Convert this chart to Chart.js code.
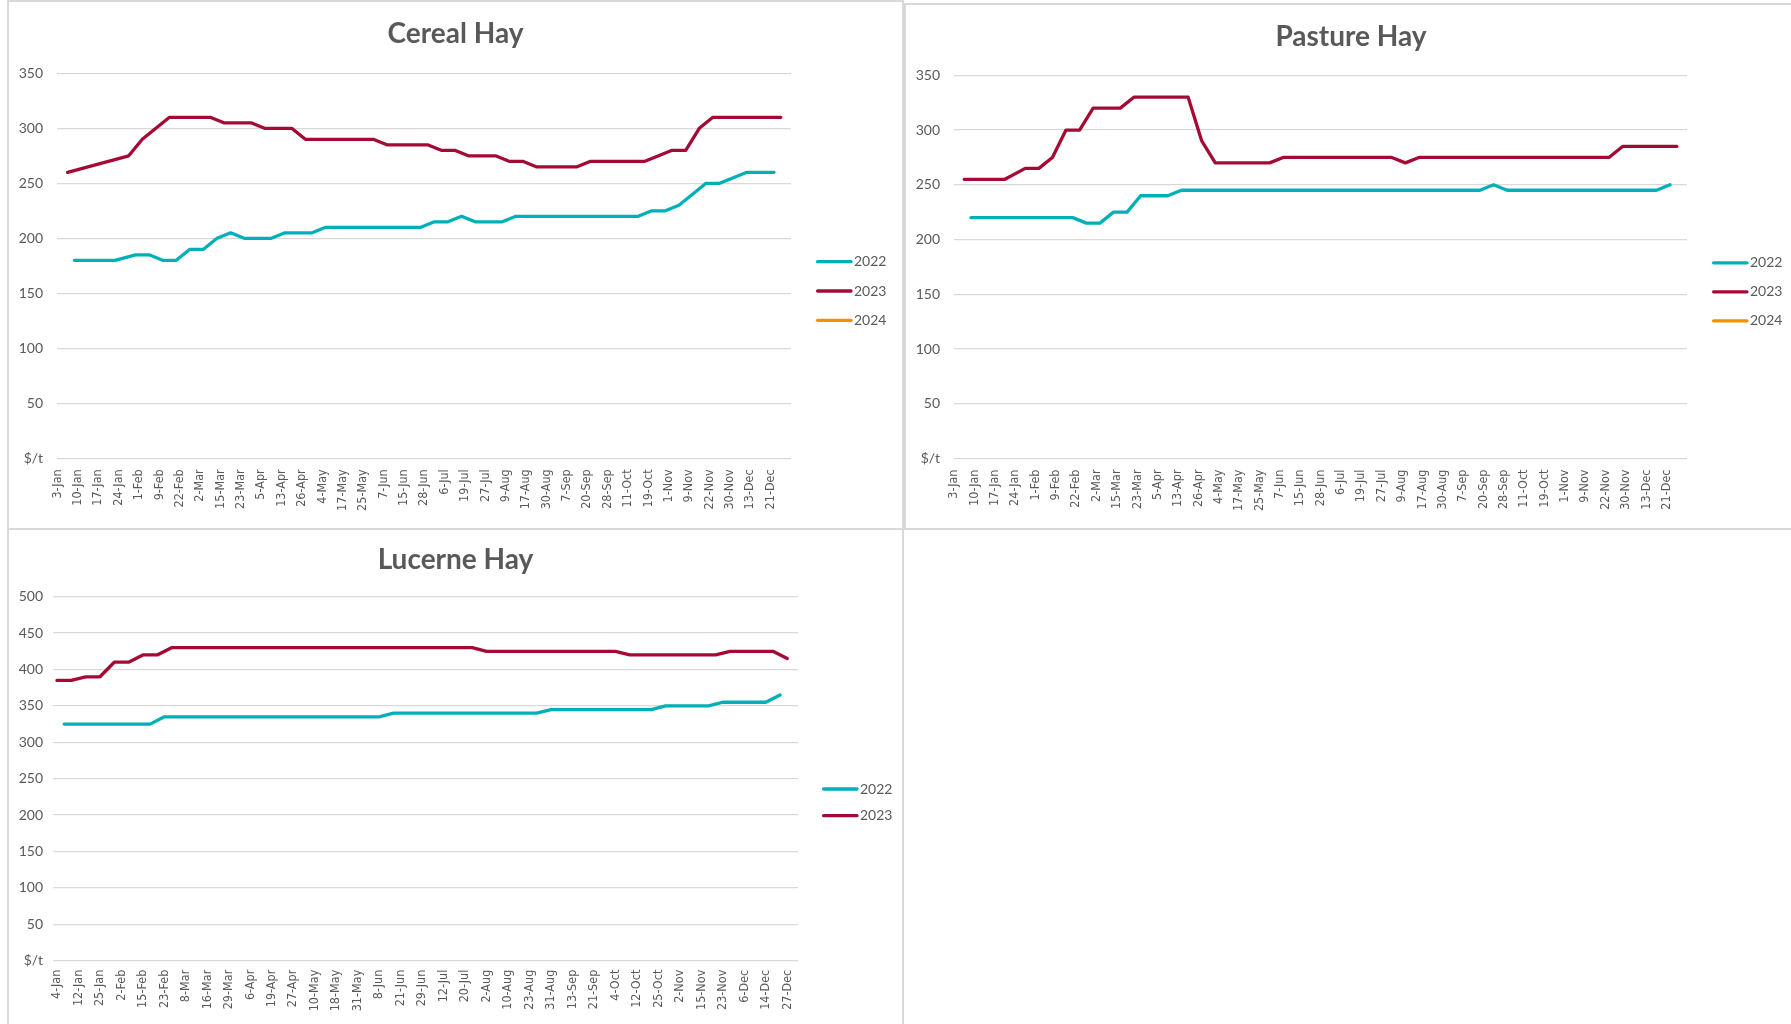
<!DOCTYPE html>
<html>
<head>
<meta charset="utf-8">
<script src="https://cdn.jsdelivr.net/npm/chart.js@4.4.1/dist/chart.umd.min.js"></script>
<style>
  html, body { margin: 0; padding: 0; background: #fff; overflow: hidden; }
  body { width: 1791px; height: 1024px; position: relative; }
  .panel { position: absolute; box-sizing: border-box; border: 2px solid #d9d9d9; }
  canvas { position: absolute; }
</style>
</head>
<body>
<div class="panel" style="left:7px;top:0;width:897px;height:530px"></div>
<div class="panel" style="left:904px;top:3px;width:900px;height:527px"></div>
<div class="panel" style="left:7px;top:528px;width:897px;height:520px"></div>

<canvas id="cereal" style="left:9px;top:2px" width="893" height="525"></canvas>
<canvas id="pasture" style="left:906px;top:5px" width="890" height="522"></canvas>
<canvas id="lucerne" style="left:9px;top:531px" width="893" height="493"></canvas>

<script>
// weekly sale dates, only every third one is printed on the axis
const hayDates = ['3-Jan','10-Jan','17-Jan','24-Jan','1-Feb','9-Feb','22-Feb','2-Mar','15-Mar','23-Mar',
  '5-Apr','13-Apr','26-Apr','4-May','17-May','25-May','7-Jun','15-Jun','28-Jun','6-Jul','19-Jul','27-Jul',
  '9-Aug','17-Aug','30-Aug','7-Sep','20-Sep','28-Sep','11-Oct','19-Oct','1-Nov','9-Nov','22-Nov','30-Nov',
  '13-Dec','21-Dec'];
const hayDateCount = 108;

const lucerneDates = ['4-Jan','12-Jan','25-Jan','2-Feb','15-Feb','23-Feb','8-Mar','16-Mar','29-Mar','6-Apr',
  '19-Apr','27-Apr','10-May','18-May','31-May','8-Jun','21-Jun','29-Jun','12-Jul','20-Jul','2-Aug','10-Aug',
  '23-Aug','31-Aug','13-Sep','21-Sep','4-Oct','12-Oct','25-Oct','2-Nov','15-Nov','23-Nov','6-Dec','14-Dec',
  '27-Dec'];
const lucerneDateCount = 104;

// price points ($/t) at the date index where the price changed
const cerealPos2022 = [2, 8, 11, 13, 15, 17, 19, 21, 23, 25, 27, 31, 33, 37, 39, 53, 55, 57, 59, 61, 65, 67, 85, 87, 89, 91, 95, 97, 101, 105];
const cerealVal2022 = [180, 180, 185, 185, 180, 180, 190, 190, 200, 205, 200, 200, 205, 205, 210, 210, 215, 215, 220, 215, 215, 220, 220, 225, 225, 230, 250, 250, 260, 260];
const cerealPos2023 = [1, 10, 12, 16, 22, 24, 28, 30, 34, 36, 46, 48, 54, 56, 58, 60, 64, 66, 68, 70, 76, 78, 86, 88, 90, 92, 94, 96, 106];
const cerealVal2023 = [260, 275, 290, 310, 310, 305, 305, 300, 300, 290, 290, 285, 285, 280, 280, 275, 275, 270, 270, 265, 265, 270, 270, 275, 280, 280, 300, 310, 310];

const pasturePos2022 = [2, 17, 19, 21, 23, 25, 27, 31, 33, 77, 79, 81, 103, 105];
const pastureVal2022 = [220, 220, 215, 215, 225, 225, 240, 240, 245, 245, 250, 245, 245, 250];
const pasturePos2023 = [1, 7, 10, 12, 14, 16, 18, 20, 24, 26, 34, 36, 38, 46, 48, 64, 66, 68, 96, 98, 106];
const pastureVal2023 = [255, 255, 265, 265, 275, 300, 300, 320, 320, 330, 330, 290, 270, 270, 275, 275, 270, 275, 275, 285, 285];

const lucernePos2022 = [1, 13, 15, 45, 47, 67, 69, 83, 85, 91, 93, 99, 101];
const lucerneVal2022 = [325, 325, 335, 335, 340, 340, 345, 345, 350, 350, 355, 355, 365];
const lucernePos2023 = [0, 2, 4, 6, 8, 10, 12, 14, 16, 58, 60, 78, 80, 92, 94, 100, 102];
const lucerneVal2023 = [385, 385, 390, 390, 410, 410, 420, 420, 430, 430, 425, 425, 420, 420, 425, 425, 415];

const COLORS = { '2022': '#00B0B9', '2023': '#A50A35', '2024': '#F39200' };
const TEXT = '#595959';
const GRID = '#d9d9d9';

// legend drawn to the right of the plot: short line + year
const sideLegend = {
    id: 'sideLegend',
    afterDraw: function(chart, args, opts) {
        const ctx = chart.ctx;
        const x = chart.chartArea.right + opts.offset;
        chart.data.datasets.forEach((ds, i) => {
            const y = opts.top + i * opts.gap;
            ctx.save();
            ctx.strokeStyle = ds.borderColor;
            ctx.lineWidth = 3.3;
            ctx.lineCap = 'round';
            ctx.beginPath();
            ctx.moveTo(x + 1.6, y);
            ctx.lineTo(x + 35, y);
            ctx.stroke();
            ctx.fillStyle = TEXT;
            ctx.font = '14px Lato';
            ctx.textBaseline = 'middle';
            ctx.fillText(ds.label, x + 38, y);
            ctx.restore();
        });
    }
};

function series(label, pos, val) {
    return {
        label: label,
        data: pos.map((p, i) => ({ x: p, y: val[i] })),
        borderColor: COLORS[label],
        backgroundColor: COLORS[label],
        borderWidth: 3.3,
        pointRadius: 0,
        tension: 0,
        borderCapStyle: 'round',
        borderJoinStyle: 'round'
    };
}

function hayChart(id, o) {
    return new Chart(document.getElementById(id), {
        type: 'line',
        data: { datasets: o.datasets },
        options: {
            responsive: false,
            animation: false,
            layout: { padding: 0 },
            plugins: {
                legend: { display: false },
                tooltip: { enabled: false },
                title: {
                    display: true,
                    text: o.title,
                    color: TEXT,
                    font: { family: 'Lato', size: 28, weight: 'bold', lineHeight: 1.2 },
                    padding: { top: o.titleTop, bottom: o.titleBottom }
                },
                sideLegend: { top: o.legendTop, gap: o.legendGap, offset: o.legendOffset }
            },
            scales: {
                x: {
                    type: 'linear',
                    min: -0.5,
                    max: o.count - 0.5,
                    grid: { display: false, drawTicks: false, tickLength: 0 },
                    border: { display: false },
                    ticks: {
                        stepSize: 3,
                        includeBounds: false,
                        autoSkip: false,
                        minRotation: 90,
                        maxRotation: 90,
                        padding: o.xPad,
                        color: TEXT,
                        font: { family: "'Liberation Sans Narrow', 'DejaVu Sans Condensed', 'Liberation Sans', sans-serif", size: 12.5 },
                        callback: v => o.ticks[Math.round(v / 3)]
                    },
                    afterFit: s => { s.height = o.xHeight; }
                },
                y: {
                    min: 0,
                    max: o.max,
                    grid: { color: GRID, lineWidth: 1.3, drawTicks: false, tickLength: 0 },
                    border: { display: false },
                    ticks: {
                        stepSize: 50,
                        padding: o.yPad,
                        color: TEXT,
                        font: { family: 'Lato', size: 14 },
                        callback: v => v === 0 ? '$/t' : v
                    },
                    afterFit: s => { s.width = o.yWidth; }
                },
                // empty box that keeps room for the legend on the right
                gap: {
                    type: 'linear',
                    position: 'right',
                    display: true,
                    grid: { display: false, drawTicks: false },
                    border: { display: false },
                    ticks: { display: false },
                    afterFit: s => { s.width = o.rightWidth; }
                }
            }
        },
        plugins: [sideLegend]
    });
}

hayChart('cereal', {
    title: 'Cereal Hay',
    ticks: hayDates, count: hayDateCount, max: 350,
    datasets: [
        series('2022', cerealPos2022, cerealVal2022),
        series('2023', cerealPos2023, cerealVal2023),
        series('2024', [], [])
    ],
    titleTop: 15.4, titleBottom: 22.3,
    yWidth: 48.4, yPad: 14.4, rightWidth: 111,
    xHeight: 68.7, xPad: 11,
    legendTop: 259.7, legendGap: 29.3, legendOffset: 25
});

hayChart('pasture', {
    title: 'Pasture Hay',
    ticks: hayDates, count: hayDateCount, max: 350,
    datasets: [
        series('2022', pasturePos2022, pastureVal2022),
        series('2023', pasturePos2023, pastureVal2023),
        series('2024', [], [])
    ],
    titleTop: 14.8, titleBottom: 21.9,
    yWidth: 48, yPad: 14, rightWidth: 109,
    xHeight: 68.5, xPad: 11,
    legendTop: 257.8, legendGap: 29, legendOffset: 25
});

hayChart('lucerne', {
    title: 'Lucerne Hay',
    ticks: lucerneDates, count: lucerneDateCount, max: 500,
    datasets: [
        series('2022', lucernePos2022, lucerneVal2022),
        series('2023', lucernePos2023, lucerneVal2023)
    ],
    titleTop: 11.9, titleBottom: 20.2,
    yWidth: 44.4, yPad: 10.4, rightWidth: 104,
    xHeight: 63.3, xPad: 9,
    legendTop: 258, legendGap: 26.7, legendOffset: 24
});
</script>
</body>
</html>
